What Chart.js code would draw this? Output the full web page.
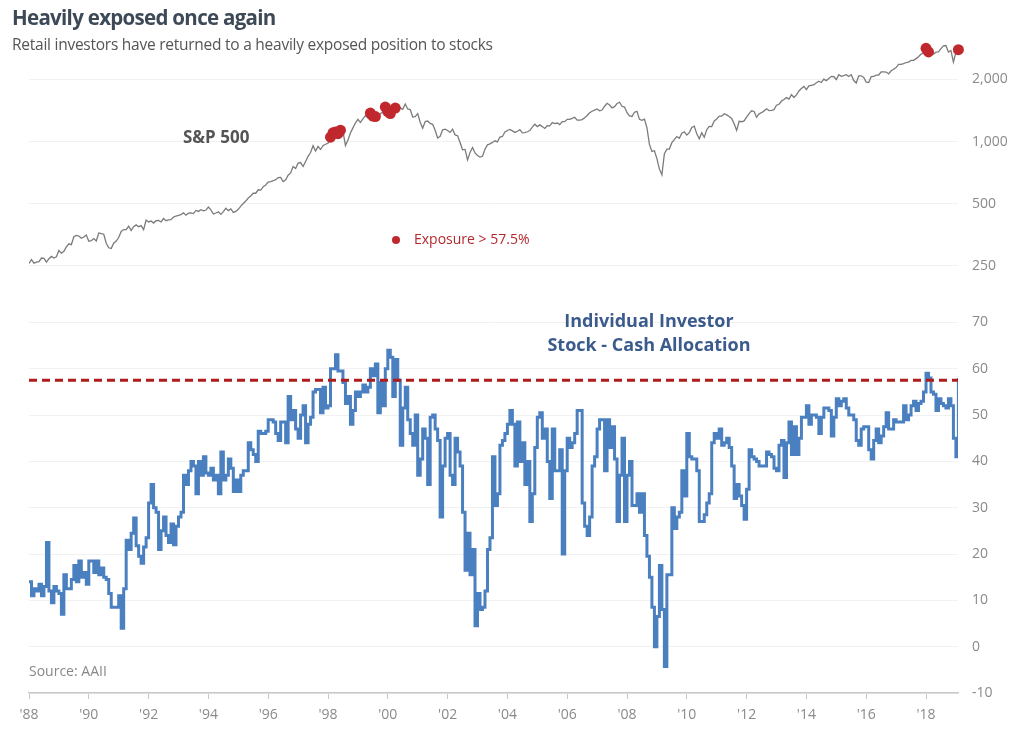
<!DOCTYPE html>
<html>
<head>
<meta charset="utf-8">
<script src="https://cdn.jsdelivr.net/npm/chart.js@4.4.1/dist/chart.umd.min.js"></script>
<style>
  body { margin: 0; background: #fff; font-family: "Open Sans", sans-serif; }
  #wrap { position: relative; width: 1024px; height: 740px; overflow: hidden; }
  canvas { position: absolute; left: 0; }
  #top { top: 0; }
  #bottom { top: 300px; }
  .lbl { position: absolute; white-space: nowrap; line-height: 1; }
</style>
</head>
<body>
<div id="wrap">
  <canvas id="top" width="1024" height="300"></canvas>
  <canvas id="bottom" width="1024" height="440"></canvas>

  <div class="lbl" style="left:12px;top:7px;font-size:20.5px;font-weight:700;letter-spacing:-0.7px;color:#3d4956;">Heavily exposed once again</div>
  <div class="lbl" style="left:12px;top:37px;font-size:15.5px;letter-spacing:-0.25px;color:#555;">Retail investors have returned to a heavily exposed position to stocks</div>
  <div class="lbl" style="left:183px;top:128px;font-size:17px;font-weight:700;color:#555;">S&amp;P 500</div>
  <div class="lbl" style="left:392px;top:236px;width:8px;height:8px;border-radius:50%;background:#c0282d;"></div>
  <div class="lbl" style="left:414px;top:232px;font-size:14px;color:#b3282d;">Exposure &gt; 57.5%</div>
  <div class="lbl" style="left:539px;top:308px;width:220px;text-align:center;font-size:18px;font-weight:700;color:#3b5b8d;line-height:24px;">Individual Investor<br>Stock - Cash Allocation</div>
  <div class="lbl" style="left:29px;top:664px;font-size:14px;color:#888;">Source: AAII</div>
</div>

<script>
// monthly, Jan 1988 .. Feb 2019
const startYear = 1988;

const spx = [
  257, 268, 258, 261, 262, 273, 272, 261, 271, 278, 273, 277,
  297, 288, 294, 309, 320, 317, 346, 351, 349, 340, 345, 353,
  329, 331, 339, 330, 361, 358, 356, 322, 306, 304, 322, 330,
  343, 367, 375, 375, 389, 371, 387, 395, 387, 392, 375, 417,
  408, 412, 403, 414, 415, 408, 424, 414, 418, 419, 431, 436,
  439, 443, 452, 440, 450, 451, 448, 464, 459, 468, 462, 466,
  482, 467, 446, 451, 457, 444, 458, 475, 463, 472, 454, 459,
  470, 487, 501, 515, 533, 545, 562, 562, 584, 582, 605, 616,
  636, 640, 646, 654, 669, 671, 640, 652, 687, 705, 757, 741,
  786, 791, 757, 801, 848, 885, 954, 899, 947, 915, 955, 970,
  980, 1049, 1102, 1112, 1091, 1134, 1121, 957, 1017, 1099, 1164, 1229,
  1280, 1238, 1286, 1335, 1302, 1373, 1329, 1320, 1283, 1363, 1389, 1469,
  1394, 1366, 1499, 1452, 1421, 1455, 1431, 1518, 1437, 1429, 1315, 1320,
  1366, 1240, 1160, 1249, 1256, 1224, 1211, 1134, 1041, 1060, 1139, 1148,
  1130, 1107, 1147, 1077, 1067, 990, 912, 916, 815, 886, 936, 880,
  856, 841, 848, 917, 964, 975, 990, 1008, 996, 1051, 1058, 1112,
  1131, 1145, 1126, 1107, 1121, 1141, 1102, 1104, 1115, 1130, 1174, 1212,
  1181, 1204, 1181, 1157, 1192, 1191, 1234, 1220, 1229, 1207, 1249, 1248,
  1280, 1281, 1295, 1311, 1270, 1270, 1277, 1304, 1336, 1378, 1401, 1418,
  1438, 1407, 1421, 1482, 1531, 1503, 1455, 1474, 1527, 1549, 1481, 1468,
  1379, 1331, 1323, 1386, 1400, 1280, 1267, 1283, 1166, 969, 896, 903,
  826, 735, 690, 873, 919, 919, 987, 1021, 1057, 1036, 1096, 1115,
  1074, 1104, 1169, 1187, 1089, 1031, 1102, 1049, 1141, 1183, 1181, 1258,
  1286, 1327, 1326, 1364, 1345, 1321, 1292, 1219, 1131, 1253, 1247, 1258,
  1312, 1366, 1408, 1398, 1310, 1362, 1379, 1407, 1441, 1412, 1416, 1426,
  1498, 1515, 1569, 1598, 1631, 1606, 1686, 1633, 1682, 1757, 1806, 1848,
  1783, 1859, 1872, 1884, 1924, 1960, 1931, 2003, 1972, 2018, 2068, 2059,
  1995, 2105, 2068, 2086, 2107, 2063, 2104, 1972, 1920, 2079, 2080, 2044,
  1940, 1932, 2060, 2065, 2097, 2099, 2174, 2171, 2168, 2126, 2199, 2239,
  2279, 2364, 2363, 2384, 2412, 2423, 2470, 2472, 2519, 2575, 2648, 2674,
  2824, 2714, 2641, 2648, 2705, 2718, 2816, 2902, 2914, 2712, 2760, 2420,
  2704, 2784
];

const stockCash = [
  14, 11, 12.5, 12, 13.5, 11, 13, 22.5, 12, 9.5, 13, 12,
  11.5, 7, 15.5, 12.5, 12.5, 14.5, 17.5, 14, 18.5, 15, 16, 13.5,
  18.5, 18.5, 16, 18.5, 15.5, 17, 15, 14.5, 11.5, 8.5, 8.5, 8.5,
  11, 4, 12.5, 23, 21, 24.5, 27.8, 21.8, 19.5, 18, 21.5, 23.5,
  31, 35, 30, 29, 21, 25, 28, 24, 22.5, 26.5, 22, 26,
  28, 29, 37, 35, 38, 40, 39, 33, 40, 37, 41, 37.5,
  37, 38.5, 36, 37, 33, 42, 36, 37, 40.5, 38.5, 33.5, 36,
  33.5, 37, 38, 38, 44, 42.5, 41.5, 40, 46.5, 46, 46, 46.5,
  49, 49, 48.5, 46, 44.5, 48.5, 48.5, 44, 54, 49, 51, 47,
  45, 50, 52, 44, 48, 49.5, 55, 55.5, 55.5, 50.5, 56, 51.5,
  52, 60, 60, 63, 59.5, 59.5, 57, 52.5, 54, 48, 51, 55,
  54, 55, 56.5, 55, 56, 60, 58.5, 61, 50.5, 57, 52, 60,
  64, 62.5, 54, 62, 57.5, 43.5, 51.5, 56, 49, 46, 43.5, 50,
  37, 40.5, 47, 45, 35, 49.5, 50, 47, 44.5, 28, 39, 45,
  46, 37, 35, 45, 42, 39, 29, 16.5, 24.5, 15.5, 21, 4.5,
  11.5, 8, 8.5, 12, 21, 23.5, 41, 30.5, 33, 43.5, 44.5, 46,
  48, 51, 48, 39, 48.5, 40, 44, 35, 40, 27, 33, 43,
  49.5, 50.5, 45, 47, 40, 32, 47, 38, 38, 42.5, 20, 38,
  45, 43, 44, 46, 51, 51, 31, 26, 24, 28, 39, 41,
  47, 49, 49, 38, 49, 43, 47.5, 40.5, 27, 37, 45, 27,
  37, 40, 30.5, 30.5, 33, 29, 33, 24, 19.5, 15, 8.5, 0,
  6.5, 17.5, 8, -4.3, 15.5, 15.5, 30, 25.5, 28, 29, 38, 32.5,
  46, 41, 40.5, 40.5, 38, 27, 27, 28.5, 31, 33, 44, 46,
  45, 47, 43.5, 44, 45, 43, 39, 32, 35, 32.5, 30.5, 27.5,
  34, 42.5, 41, 40.5, 40, 39, 39, 39, 42, 41.5, 41, 38.5,
  38, 43.5, 44.5, 36.5, 44, 48.5, 41.5, 47.5, 41.5, 45, 49.5, 49.5,
  52, 48, 50, 50, 49.5, 46, 49.5, 51.5, 51.5, 51, 45.5, 49.5,
  53.5, 52, 53, 53.5, 51.5, 50, 50, 49, 44.5, 43.5, 47, 47.5,
  47.5, 42.5, 40.5, 44.5, 47, 44, 45.5, 47.5, 50.5, 47, 47, 49,
  48.5, 48.5, 48.5, 52, 49, 50, 52, 53, 51, 52.5, 53, 55,
  59, 58, 55, 54.5, 51, 53.5, 52.5, 52, 51.5, 53.5, 52, 45,
  41, 58
];

const threshold = 57.5;
const topTicks = [250, 500, 1000, 2000];
const bottomTicks = [-10, 0, 10, 20, 30, 40, 50, 60, 70];
const yearTicks = [1988, 1990, 1992, 1994, 1996, 1998, 2000, 2002, 2004, 2006, 2008, 2010, 2012, 2014, 2016, 2018];

const xMin = 1988, xMax = 2019.07;
const dateOf = i => startYear + i / 12;

const spxPoints = spx.map((v, i) => ({ x: dateOf(i), y: v }));
const cashPoints = stockCash.map((v, i) => ({ x: dateOf(i), y: v }));
const exposedPoints = spx
  .map((v, i) => ({ x: dateOf(i), y: v, hot: stockCash[i] > threshold }))
  .filter(p => p.hot);

const axisFont = { family: 'Open Sans', size: 14 };

new Chart(document.getElementById('top'), {
  type: 'line',
  data: {
    datasets: [
      {
        data: exposedPoints,
        showLine: false,
        pointRadius: 5.5,
        pointBackgroundColor: '#c0282d',
        pointBorderWidth: 0,
        clip: false
      },
      {
        data: spxPoints,
        borderColor: '#7b7b7b',
        borderWidth: 1.3,
        pointRadius: 0,
        tension: 0
      }
    ]
  },
  options: {
    responsive: false,
    animation: false,
    layout: { padding: { left: 29, top: 40, right: 0, bottom: 0 } },
    plugins: { legend: { display: false }, tooltip: { enabled: false } },
    scales: {
      x: { type: 'linear', min: xMin, max: xMax, display: false },
      y: {
        type: 'logarithmic',
        position: 'right',
        min: 219.5,
        max: 3100,
        afterBuildTicks: s => { s.ticks = topTicks.map(v => ({ value: v })); },
        afterFit: s => { s.width = 66; },
        grid: { color: '#f1f1f1', drawTicks: false },
        border: { display: false },
        ticks: {
          color: '#8a8a8a',
          font: axisFont,
          padding: 14,
          callback: v => Number(v).toLocaleString('en-US')
        }
      }
    }
  }
});

new Chart(document.getElementById('bottom'), {
  type: 'line',
  data: {
    datasets: [
      {
        data: [{ x: xMin, y: threshold }, { x: xMax, y: threshold }],
        borderColor: '#b01b1b',
        borderWidth: 3,
        borderDash: [8, 5],
        pointRadius: 0
      },
      {
        data: cashPoints,
        borderColor: '#4a7fc0',
        borderWidth: 3,
        pointRadius: 0,
        stepped: true
      }
    ]
  },
  options: {
    responsive: false,
    animation: false,
    layout: { padding: { left: 29, top: 18, right: 0, bottom: 0 } },
    plugins: { legend: { display: false }, tooltip: { enabled: false } },
    scales: {
      x: {
        type: 'linear',
        min: xMin,
        max: xMax,
        afterBuildTicks: s => { s.ticks = yearTicks.map(v => ({ value: v })); },
        afterFit: s => { s.height = 47; },
        grid: { drawOnChartArea: false, color: '#c8c8c8', tickLength: 6 },
        border: { color: '#c8c8c8', width: 1.5 },
        ticks: {
          color: '#8a8a8a',
          font: { family: 'Open Sans', size: 14 },
          padding: 8,
          maxRotation: 0,
          callback: v => "'" + String(v).slice(2)
        }
      },
      y: {
        position: 'right',
        min: -10,
        max: 70,
        afterBuildTicks: s => { s.ticks = bottomTicks.map(v => ({ value: v })); },
        afterFit: s => { s.width = 66; },
        grid: { color: '#f1f1f1', drawTicks: false },
        border: { display: false },
        ticks: { color: '#8a8a8a', font: axisFont, padding: 14 }
      }
    }
  }
});
</script>
</body>
</html>
